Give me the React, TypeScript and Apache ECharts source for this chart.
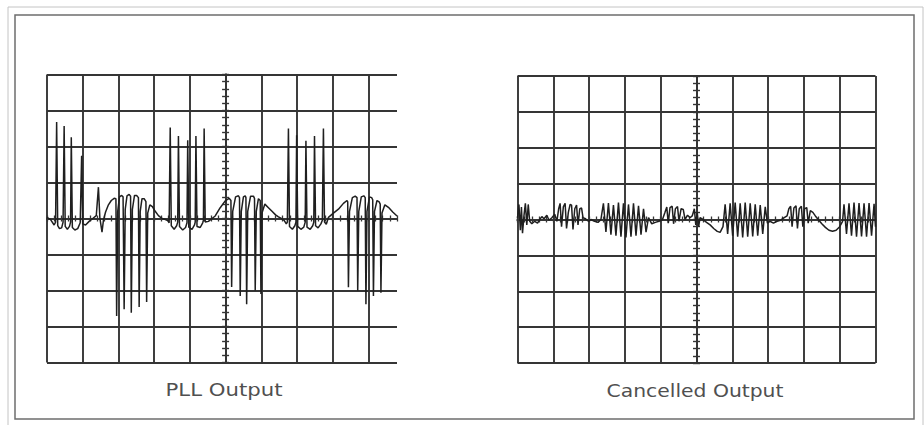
import { useEffect, useRef } from "react";
import * as echarts from "echarts";

// Oscilloscope traces, in screen divisions: [time div, amplitude div]
const pllTrace: [number, number][] = [
  [0.00, 0.03], [0.10, -0.03], [0.20, -0.18], [0.24, -0.1], [0.27, 2.68], [0.30, -0.2], [0.35, -0.28], [0.41, -0.26],
  [0.45, -0.1], [0.48, 2.57], [0.51, -0.22], [0.57, -0.3], [0.63, -0.22], [0.66, -0.1], [0.68, 2.26], [0.71, -0.25],
  [0.78, -0.32], [0.86, -0.28], [0.93, -0.12], [0.97, 1.74], [1.00, -0.15], [1.08, -0.18], [1.18, -0.08], [1.28, 0.0],
  [1.38, 0.08], [1.44, 0.87], [1.48, 0.02], [1.54, -0.38], [1.58, -0.05], [1.64, 0.18], [1.72, 0.38], [1.80, 0.5],
  [1.88, 0.56], [1.93, 0.55], [1.95, -2.71], [1.98, 0.2], [2.03, 0.6], [2.09, 0.64], [2.13, 0.6], [2.16, -2.52],
  [2.19, 0.25], [2.24, 0.63], [2.30, 0.67], [2.34, 0.62], [2.36, -2.62], [2.39, 0.25], [2.45, 0.64], [2.51, 0.64],
  [2.56, 0.58], [2.58, -2.46], [2.61, 0.2], [2.66, 0.55], [2.72, 0.55], [2.77, 0.47], [2.79, -2.32], [2.82, 0.15],
  [2.88, 0.38], [2.95, 0.33], [3.03, 0.2], [3.12, 0.08], [3.22, 0.0], [3.30, -0.02], [3.38, -0.06], [3.42, -0.12],
  [3.45, 2.53], [3.48, -0.2], [3.56, -0.3], [3.63, -0.2], [3.66, -0.1], [3.68, 2.29], [3.71, -0.22], [3.80, -0.32],
  [3.88, -0.25], [3.92, -0.12], [3.94, 2.17], [3.97, -0.24], [4.06, -0.3], [4.13, -0.18], [4.15, -0.1], [4.17, 2.29],
  [4.20, -0.22], [4.29, -0.25], [4.36, -0.12], [4.38, -0.05], [4.40, 2.50], [4.43, -0.1], [4.52, -0.08], [4.62, 0.0],
  [4.71, 0.07], [4.85, 0.3], [4.99, 0.49], [5.10, 0.56], [5.15, 0.5], [5.17, -1.9], [5.20, 0.2], [5.28, 0.6],
  [5.36, 0.63], [5.39, 0.58], [5.41, -2.15], [5.44, 0.2], [5.50, 0.6], [5.55, 0.63], [5.57, 0.58], [5.59, -2.38],
  [5.62, 0.2], [5.70, 0.62], [5.78, 0.62], [5.81, 0.56], [5.83, -2.0], [5.86, 0.2], [5.92, 0.55], [5.97, 0.5],
  [5.99, -2.1], [6.02, 0.15], [6.10, 0.4], [6.20, 0.3], [6.30, 0.2], [6.40, 0.1], [6.47, 0.05], [6.56, 0.0],
  [6.64, -0.05], [6.70, -0.15], [6.73, -0.1], [6.76, 2.50], [6.79, -0.22], [6.87, -0.3], [6.94, -0.2], [6.97, -0.1],
  [6.99, 2.31], [7.02, -0.22], [7.11, -0.3], [7.19, -0.24], [7.23, -0.1], [7.25, 2.16], [7.28, -0.24], [7.37, -0.3],
  [7.44, -0.2], [7.47, -0.1], [7.49, 2.29], [7.52, -0.2], [7.59, -0.26], [7.67, -0.15], [7.71, -0.05], [7.74, 2.50],
  [7.77, -0.1], [7.82, -0.16], [7.88, 0.03], [8.02, 0.15], [8.16, 0.26], [8.30, 0.42], [8.40, 0.5], [8.42, 0.46],
  [8.44, -1.91], [8.47, 0.2], [8.55, 0.58], [8.63, 0.62], [8.68, 0.58], [8.70, -2.01], [8.73, 0.2], [8.80, 0.6],
  [8.87, 0.63], [8.91, 0.58], [8.93, -2.38], [8.96, 0.2], [9.03, 0.6], [9.09, 0.58], [9.12, 0.52], [9.14, -2.15],
  [9.17, 0.2], [9.24, 0.5], [9.30, 0.46], [9.33, 0.4], [9.35, -2.06], [9.38, 0.15], [9.46, 0.38], [9.56, 0.31],
  [9.68, 0.18], [9.80, 0.07],
];

const cancelledTrace: [number, number][] = [
  [0.00, 0.05], [0.04, 0.42], [0.08, -0.3], [0.11, 0.35], [0.14, -0.38], [0.18, 0.1], [0.22, 0.45], [0.26, -0.15],
  [0.30, 0.42], [0.34, -0.05], [0.40, -0.12], [0.48, -0.05], [0.56, -0.1], [0.62, 0.0], [0.68, 0.08], [0.74, 0.02],
  [0.82, 0.12], [0.88, -0.02], [0.96, 0.05], [1.04, 0.15], [1.10, -0.05], [1.15, 0.3], [1.19, 0.45], [1.23, -0.2],
  [1.28, 0.35], [1.33, 0.45], [1.37, -0.25], [1.42, 0.2], [1.47, 0.42], [1.51, 0.4], [1.55, -0.28], [1.60, 0.3],
  [1.65, 0.4], [1.69, -0.15], [1.74, 0.3], [1.79, 0.32], [1.83, 0.05], [1.90, 0.02], [1.98, -0.05], [2.05, 0.0],
  [2.15, -0.05], [2.25, -0.08], [2.33, 0.0], [2.40, 0.45], [2.47, -0.35], [2.54, 0.46], [2.61, -0.42], [2.68, 0.4],
  [2.75, -0.45], [2.82, 0.47], [2.89, -0.48], [2.96, 0.45], [3.03, -0.5], [3.10, 0.42], [3.17, -0.48], [3.24, 0.45],
  [3.31, -0.45], [3.38, 0.38], [3.45, -0.42], [3.52, 0.3], [3.59, -0.35], [3.66, 0.05], [3.75, -0.12], [3.85, -0.08],
  [3.95, -0.05], [4.05, 0.0], [4.12, 0.2], [4.17, 0.35], [4.21, -0.1], [4.26, 0.33], [4.32, 0.37], [4.36, -0.12],
  [4.41, 0.3], [4.47, 0.36], [4.51, -0.05], [4.57, 0.3], [4.63, 0.28], [4.68, 0.0], [4.75, 0.12], [4.82, 0.05],
  [4.88, 0.1], [4.94, 0.3], [4.98, -0.15], [5.02, 0.2], [5.06, -0.2], [5.10, 0.05], [5.18, 0.0], [5.28, -0.08],
  [5.38, -0.15], [5.48, -0.25], [5.58, -0.33], [5.66, -0.36], [5.74, -0.2], [5.80, 0.42], [5.87, -0.4], [5.94, 0.45],
  [6.01, -0.45], [6.08, 0.47], [6.15, -0.48], [6.22, 0.45], [6.29, -0.5], [6.36, 0.47], [6.43, -0.48], [6.50, 0.45],
  [6.57, -0.47], [6.64, 0.42], [6.71, -0.45], [6.78, 0.4], [6.85, -0.4], [6.92, 0.35], [6.98, -0.1], [7.05, -0.05],
  [7.15, -0.1], [7.25, -0.05], [7.35, -0.02], [7.45, 0.05], [7.53, 0.1], [7.58, 0.3], [7.63, 0.37], [7.67, -0.2],
  [7.72, 0.32], [7.78, 0.38], [7.82, -0.25], [7.87, 0.3], [7.93, 0.37], [7.97, -0.2], [8.02, 0.3], [8.08, 0.33],
  [8.12, -0.1], [8.18, 0.25], [8.25, 0.2], [8.32, 0.1], [8.40, 0.0], [8.50, -0.12], [8.60, -0.22], [8.70, -0.3],
  [8.80, -0.33], [8.90, -0.3], [9.00, -0.2], [9.08, -0.05], [9.12, 0.42], [9.19, -0.4], [9.26, 0.45], [9.33, -0.45],
  [9.40, 0.47], [9.47, -0.48], [9.54, 0.46], [9.61, -0.47], [9.68, 0.45], [9.75, -0.48], [9.82, 0.46], [9.89, -0.45],
  [9.96, 0.44], [10.0, -0.2],
];

const panelTitles = ["PLL Output", "Cancelled Output"];
const leftSpanDivs = 9.8; // left screen is cropped on its right side
const rightSpanDivs = 10;
const verticalDivs = 4; // +/- divisions

const GRID_COLOR = "#353535";
const TRACE_COLOR = "#1f1f1f";
const TEXT_COLOR = "#505050";

function axesFor(gridIndex: number, xMax: number, widthPx: number, heightPx: number, showMax: boolean) {
  const mainX = {
    gridIndex, type: "value", min: 0, max: xMax, interval: 1,
    axisLine: { show: false, onZero: false }, axisTick: { show: false }, axisLabel: { show: false },
    splitLine: { show: true, showMinLine: true, showMaxLine: showMax, lineStyle: { color: GRID_COLOR, width: 1.9 } },
  };
  const mainY = {
    gridIndex, type: "value", min: -verticalDivs, max: verticalDivs, interval: 1,
    axisLine: { show: false, onZero: false }, axisTick: { show: false }, axisLabel: { show: false },
    splitLine: { show: true, showMinLine: true, showMaxLine: true, lineStyle: { color: GRID_COLOR, width: 1.9 } },
  };
  const tickX = (inside: boolean) => ({
    gridIndex, type: "value", min: 0, max: xMax, interval: 1, position: "bottom", offset: -heightPx / 2,
    axisLine: { show: true, onZero: false, lineStyle: { color: GRID_COLOR, width: 1.9 } },
    axisTick: { show: true, inside, length: 3, lineStyle: { color: GRID_COLOR, width: 1.3 } },
    minorTick: { show: true, splitNumber: 5, length: 3, lineStyle: { color: GRID_COLOR, width: 1.3 } },
    axisLabel: { show: false }, splitLine: { show: false },
  });
  const tickY = (inside: boolean) => ({
    gridIndex, type: "value", min: -verticalDivs, max: verticalDivs, interval: 1, position: "left", offset: -widthPx * 5 / xMax,
    axisLine: { show: true, onZero: false, lineStyle: { color: GRID_COLOR, width: 1.9 } },
    axisTick: { show: true, inside, length: 3.5, lineStyle: { color: GRID_COLOR, width: 1.4 } },
    minorTick: { show: true, splitNumber: 5, length: 3.5, lineStyle: { color: GRID_COLOR, width: 1.4 } },
    axisLabel: { show: false }, splitLine: { show: false },
  });
  return {
    x: [mainX, tickX(false), tickX(true)],
    y: [mainY, tickY(false), tickY(true)],
  };
}

export default function App() {
  const ref = useRef<HTMLDivElement>(null);
  useEffect(() => {
    if (!ref.current) return;
    const chart = echarts.init(ref.current, undefined, { renderer: "svg" });
    const leftW = 350, leftH = 288, rightW = 358, rightH = 287;
    const a = axesFor(0, leftSpanDivs, leftW, leftH, false);
    const b = axesFor(1, rightSpanDivs, rightW, rightH, true);
    const titleStyle = {
      fill: TEXT_COLOR, fontFamily: "DejaVu Sans", fontSize: 18, fontWeight: "normal",
      textAlign: "center", textVerticalAlign: "middle", align: "center", verticalAlign: "middle",
    };
    chart.setOption({
      animation: false,
      backgroundColor: "#ffffff",
      grid: [
        { left: 47, top: 74.5, width: leftW, height: leftH },
        { left: 517.5, top: 76, width: rightW, height: rightH },
      ],
      xAxis: [...a.x, ...b.x],
      yAxis: [...a.y, ...b.y],
      series: [
        {
          type: "line", xAxisIndex: 0, yAxisIndex: 0, data: pllTrace, showSymbol: false, symbol: "none",
          lineStyle: { color: TRACE_COLOR, width: 1.5 }, clip: true, z: 5,
        },
        {
          type: "line", xAxisIndex: 3, yAxisIndex: 3, data: cancelledTrace, showSymbol: false, symbol: "none",
          lineStyle: { color: TRACE_COLOR, width: 1.5 }, clip: true, z: 5,
        },
      ],
      graphic: [
        { type: "rect", shape: { x: 8, y: 7, width: 915, height: 430 }, style: { fill: "none", stroke: "#c4c4c4", lineWidth: 1 }, silent: true },
        { type: "rect", shape: { x: 15, y: 15, width: 899, height: 404 }, style: { fill: "none", stroke: "#6e6e6e", lineWidth: 1.5 }, silent: true },
        { type: "text", x: 224, y: 390, scaleX: 1.18, style: { ...titleStyle, text: panelTitles[0] } },
        { type: "text", x: 695, y: 391, scaleX: 1.13, style: { ...titleStyle, text: panelTitles[1] } },
      ],
    });
    return () => chart.dispose();
  }, []);
  return <div ref={ref} style={{ position: "fixed", left: 0, top: 0, width: 924, height: 425 }} />;
}
